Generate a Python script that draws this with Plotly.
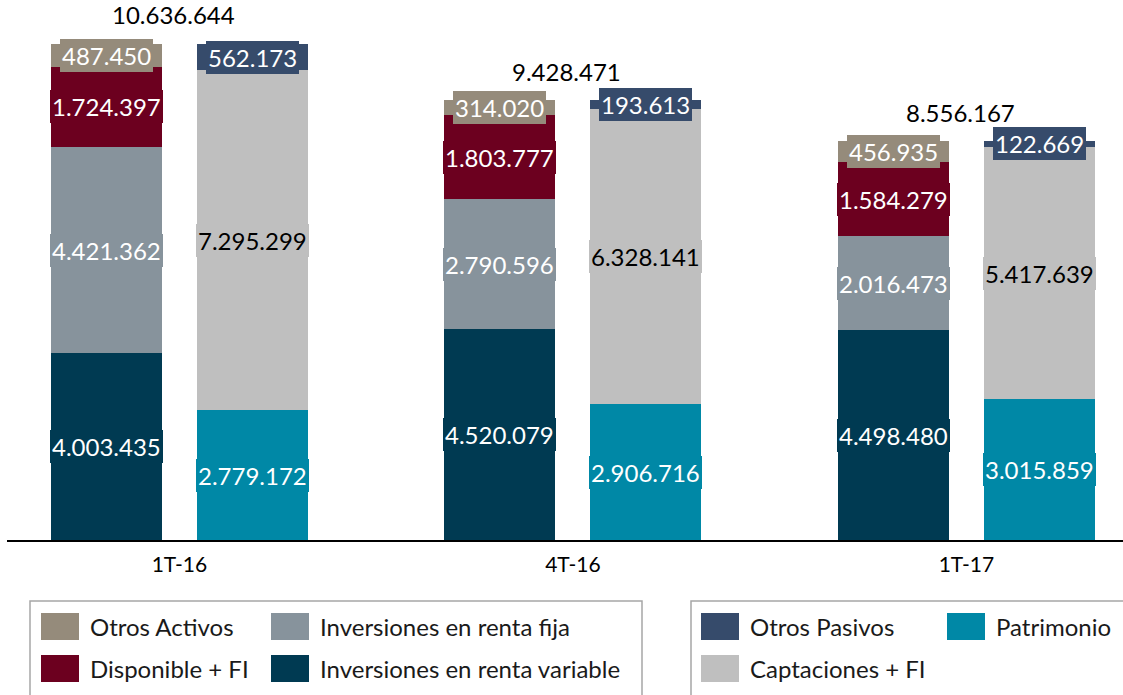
import plotly.graph_objects as go

# Balance por trimestre: activos (barra izquierda) y pasivos + patrimonio (barra derecha)
periods = ["1T-16", "4T-16", "1T-17"]

renta_variable = [4003435, 4520079, 4498480]
renta_fija = [4421362, 2790596, 2016473]
disponible = [1724397, 1803777, 1584279]
otros_activos = [487450, 314020, 456935]

patrimonio = [2779172, 2906716, 3015859]
captaciones = [7295299, 6328141, 5417639]
otros_pasivos = [562173, 193613, 122669]

totales = [10636644, 9428471, 8556167]

FONT = "Lato"
W, H = 1123, 695
ML, MR, MT, MB = 7, 0, 0, 155
PW, PH = W - ML - MR, H - MT - MB

BAR_W = 0.282
OFF = 0.1855

assets = [
    ("Inversiones en renta variable", renta_variable, "#003A52", "white"),
    ("Inversiones en renta fija", renta_fija, "#87939C", "white"),
    ("Disponible + FI", disponible, "#6C001F", "white"),
    ("Otros Activos", otros_activos, "#958B7B", "white"),
]
liabilities = [
    ("Patrimonio", patrimonio, "#0088A6", "white"),
    ("Captaciones + FI", captaciones, "#BFBFBF", "black"),
    ("Otros Pasivos", otros_pasivos, "#364B6B", "white"),
]


def fmt(v):
    return f"{v:,}".replace(",", ".")


def px_x(p):
    return (p - ML) / PW


def px_y(p):
    return 1 - (p - MT) / PH


fig = go.Figure()
annotations = []
shapes = []

for stack, off in ((assets, -OFF), (liabilities, OFF)):
    xs = [i + off for i in range(len(periods))]
    base = [0] * len(periods)
    for name, vals, color, tcolor in stack:
        fig.add_trace(go.Bar(
            x=xs, y=vals, width=BAR_W, name=name,
            marker=dict(color=color, line=dict(width=0)),
            showlegend=False, hoverinfo="skip",
        ))
        for i, v in enumerate(vals):
            annotations.append(dict(
                x=xs[i], y=base[i] + v / 2, xref="x", yref="y",
                text=fmt(v), showarrow=False,
                font=dict(family=FONT, size=24, color=tcolor),
                bgcolor=color, borderpad=2, borderwidth=0,
            ))
            base[i] += v

# Totales sobre cada grupo
for i, t in enumerate(totales):
    annotations.append(dict(
        x=i, y=t, xref="x", yref="y", text=fmt(t), showarrow=False,
        yanchor="middle", yshift=29, xshift=-6,
        font=dict(family=FONT, size=24, color="black"),
    ))

# Leyendas en dos recuadros
legend_boxes = [(30, 642), (691, 1135)]
for x0, x1 in legend_boxes:
    shapes.append(dict(
        type="rect", xref="paper", yref="paper",
        x0=px_x(x0), x1=px_x(x1), y0=px_y(601), y1=px_y(720),
        line=dict(color="#A6A6A6", width=1.5), fillcolor="rgba(0,0,0,0)",
        layer="above",
    ))

legend_items = [
    ("Otros Activos", "#958B7B", 41, 0),
    ("Inversiones en renta fija", "#87939C", 271, 0),
    ("Disponible + FI", "#6C001F", 41, 1),
    ("Inversiones en renta variable", "#003A52", 271, 1),
    ("Otros Pasivos", "#364B6B", 701, 0),
    ("Patrimonio", "#0088A6", 947, 0),
    ("Captaciones + FI", "#BFBFBF", 701, 1),
]
row_top = [613, 655]
SW_W, SW_H = 38, 27
for name, color, sx, row in legend_items:
    y0 = row_top[row]
    shapes.append(dict(
        type="rect", xref="paper", yref="paper",
        x0=px_x(sx), x1=px_x(sx + SW_W), y0=px_y(y0 + SW_H), y1=px_y(y0),
        line=dict(width=0), fillcolor=color, layer="above",
    ))
    annotations.append(dict(
        x=px_x(sx + SW_W + 9), y=px_y(y0 + SW_H / 2), xref="paper", yref="paper",
        text=name, showarrow=False, xanchor="left", yanchor="middle",
        font=dict(family=FONT, size=24, color="#1a1a1a"),
    ))

fig.update_layout(
    width=W, height=H,
    margin=dict(l=ML, r=MR, t=MT, b=MB),
    paper_bgcolor="white", plot_bgcolor="white",
    barmode="stack", bargap=0,
    annotations=annotations, shapes=shapes,
    xaxis=dict(
        range=[-0.438, 2.398], tickmode="array",
        tickvals=list(range(len(periods))), ticktext=periods,
        tickfont=dict(family=FONT, size=21, color="black"),
        showline=True, linecolor="black", linewidth=2,
        ticks="outside", ticklen=5, tickcolor="rgba(0,0,0,0)",
        showgrid=False, zeroline=False, fixedrange=True,
    ),
    yaxis=dict(
        range=[0, 11580000], visible=False, showgrid=False,
        zeroline=False, fixedrange=True,
    ),
    showlegend=False,
)

fig.write_html("out.html")
